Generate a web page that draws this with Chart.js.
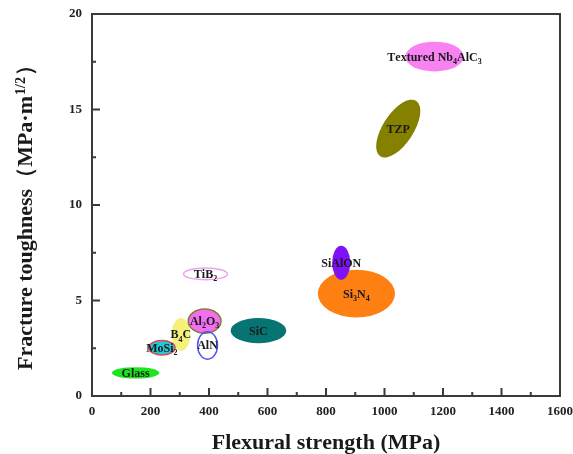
<!DOCTYPE html>
<html>
<head>
<meta charset="utf-8">
<script src="https://cdn.jsdelivr.net/npm/chart.js@4.4.0/dist/chart.umd.min.js"></script>
<style>
  html, body { margin: 0; padding: 0; background: #fff; }
  #wrap { width: 573px; height: 454px; }
</style>
</head>
<body>
<div id="wrap"><canvas id="chart"></canvas></div>
<script>
// materials, in drawing order ("_" = next char is a subscript)
const materials = ['Glass', 'B_4C', 'MoSi_2', 'Al_2O_3', 'AlN', 'SiC', 'TiB_2', 'Si_3N_4', 'SiAlON', 'TZP', 'Textured Nb_4AlC_3'];
// centre of each region
const strength = [149, 304, 239, 385, 395, 569, 388, 904, 852, 1047, 1171];     // MPa
const toughness = [1.21, 3.22, 2.53, 3.92, 2.65, 3.42, 6.39, 5.36, 6.98, 14.0, 17.77]; // MPa·m^1/2
// half ranges
const strengthSpread = [81, 32, 45, 56, 34, 95, 75, 132, 31, 113, 100];
const toughnessSpread = [0.30, 0.86, 0.38, 0.63, 0.72, 0.66, 0.31, 1.25, 0.89, 0.80, 0.78];
const tiltDeg = [0, 0, 0, 0, 0, 0, 0, 0, 0, 57, 0];

const xTicks = [0, 200, 400, 600, 800, 1000, 1200, 1400, 1600];
const yTicks = [0, 5, 10, 15, 20];

// styles
const fills = ['#1ee61e', '#f4f07a', '#22c8d8', '#f070f0', null, '#077474', '#ffffff', '#ff8012', '#8010f8', '#858000', '#f882f2'];
const strokes = [null, null, '#e04848', '#8a7a30', '#5050f0', null, '#f0a0f0', null, null, null, null];

const SERIF = '"Liberation Serif", "Times New Roman", serif';

function parseLabel(str) {
  const parts = [];
  for (let i = 0; i < str.length; i++) {
    if (str[i] === '_') { parts.push({ t: str[i + 1], sub: true }); i++; }
    else parts.push({ t: str[i], sub: false });
  }
  return parts;
}

function drawSegments(ctx, parts, size, cx, baseY) {
  const big = 'bold ' + size + 'px ' + SERIF;
  const small = 'bold ' + Math.round(size * 0.65) + 'px ' + SERIF;
  let w = 0;
  parts.forEach(p => { ctx.font = p.sub ? small : big; w += ctx.measureText(p.t).width; });
  let xPos = cx - w / 2;
  ctx.textAlign = 'left';
  ctx.textBaseline = 'alphabetic';
  parts.forEach(p => {
    ctx.font = p.sub ? small : big;
    ctx.fillText(p.t, xPos, baseY + (p.sub ? size * 0.28 : 0));
    xPos += ctx.measureText(p.t).width;
  });
}

const ellipsePlugin = {
  id: 'ellipses',
  afterDatasetsDraw(chart) {
    const { ctx, chartArea, scales: { x, y } } = chart;
    ctx.save();
    ctx.beginPath();
    ctx.rect(chartArea.left, chartArea.top, chartArea.right - chartArea.left, chartArea.bottom - chartArea.top);
    ctx.clip();
    materials.forEach((name, i) => {
      const cx = x.getPixelForValue(strength[i]);
      const cy = y.getPixelForValue(toughness[i]);
      const rx = Math.abs(x.getPixelForValue(strength[i] + strengthSpread[i]) - cx);
      const ry = Math.abs(y.getPixelForValue(toughness[i] + toughnessSpread[i]) - cy);
      ctx.beginPath();
      ctx.ellipse(cx, cy, rx, ry, -tiltDeg[i] * Math.PI / 180, 0, 2 * Math.PI);
      if (fills[i]) { ctx.fillStyle = fills[i]; ctx.fill(); }
      if (strokes[i]) { ctx.strokeStyle = strokes[i]; ctx.lineWidth = 1.5; ctx.stroke(); }
    });
    ctx.fillStyle = '#1a1a1a';
    materials.forEach((name, i) => {
      const cx = x.getPixelForValue(strength[i]);
      const cy = y.getPixelForValue(toughness[i]);
      drawSegments(ctx, parseLabel(name), 12, cx, cy + 4);
    });
    ctx.restore();
  },
  afterDraw(chart) {
    const { ctx, chartArea: a, scales: { x, y } } = chart;
    ctx.save();
    ctx.strokeStyle = '#3a3a3a';
    ctx.lineWidth = 2;
    // inner tick marks
    ctx.beginPath();
    x.ticks.forEach(t => {
      const px = x.getPixelForValue(t.value);
      const len = t.value % 200 === 0 ? 8 : 4;
      ctx.moveTo(px, a.bottom); ctx.lineTo(px, a.bottom - len);
    });
    y.ticks.forEach(t => {
      const py = y.getPixelForValue(t.value);
      const len = t.value % 5 === 0 ? 8 : 4;
      ctx.moveTo(a.left, py); ctx.lineTo(a.left + len, py);
    });
    ctx.stroke();
    ctx.strokeRect(a.left, a.top, a.right - a.left, a.bottom - a.top);

    // axis titles
    ctx.fillStyle = '#1a1a1a';
    drawSegments(ctx, parseLabel('Flexural strength (MPa)'), 22, (a.left + a.right) / 2, 449);
    ctx.translate(32, (a.top + a.bottom) / 2 + 8);
    ctx.rotate(-Math.PI / 2);
    const big = 'bold 22px ' + SERIF;
    const small = 'bold 14px ' + SERIF;
    ctx.font = big;
    const w1 = ctx.measureText('Fracture toughness（MPa·m').width;
    const w3 = ctx.measureText('）').width;
    ctx.font = small;
    const w2 = ctx.measureText('1/2').width;
    let sx = -(w1 + w2 + w3) / 2;
    ctx.textAlign = 'left';
    ctx.textBaseline = 'alphabetic';
    ctx.font = big;
    ctx.fillText('Fracture toughness（MPa·m', sx, 0);
    ctx.font = small;
    ctx.fillText('1/2', sx + w1 + 1, -7);
    ctx.font = big;
    ctx.fillText('）', sx + w1 + w2 + 2, 0);
    ctx.restore();
  }
};

new Chart(document.getElementById('chart'), {
  type: 'scatter',
  data: {
    datasets: [{
      label: 'materials',
      data: strength.map((v, i) => ({ x: v, y: toughness[i] })),
      pointRadius: 0,
      pointHoverRadius: 0
    }]
  },
  options: {
    responsive: true,
    maintainAspectRatio: false,
    animation: false,
    layout: { padding: { top: 14, right: 13, left: 0, bottom: 0 } },
    plugins: { legend: { display: false }, tooltip: { enabled: false } },
    scales: {
      x: {
        type: 'linear',
        min: 0, max: 1600,
        afterFit: s => { s.height = 58; s.paddingLeft = 0; s.paddingRight = 0; },
        grid: { display: false, drawTicks: false },
        border: { display: false },
        ticks: {
          stepSize: 100,
          autoSkip: false,
          maxRotation: 0,
          padding: 8,
          color: '#222',
          font: { family: SERIF, size: 13, weight: 'bold' },
          callback: v => xTicks.includes(v) ? v : ''
        }
      },
      y: {
        type: 'linear',
        min: 0, max: 20,
        afterFit: s => { s.width = 92; s.paddingTop = 0; s.paddingBottom = 0; },
        grid: { display: false, drawTicks: false },
        border: { display: false },
        ticks: {
          stepSize: 2.5,
          autoSkip: false,
          padding: 10,
          color: '#222',
          font: { family: SERIF, size: 13, weight: 'bold' },
          callback: v => yTicks.includes(v) ? v : ''
        }
      }
    }
  },
  plugins: [ellipsePlugin]
});
</script>
</body>
</html>
